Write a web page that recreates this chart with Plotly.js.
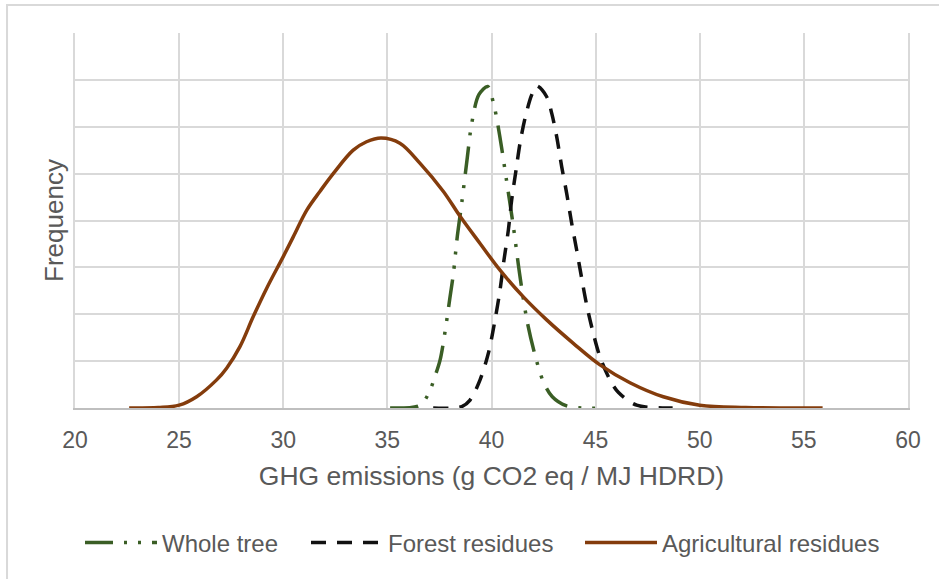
<!DOCTYPE html>
<html>
<head>
<meta charset="utf-8">
<script src="https://cdn.plot.ly/plotly-3.0.1.min.js"></script>
<style>html,body{margin:0;padding:0;background:#fff;}#chart{width:939px;height:579px;}</style>
</head>
<body>
<div id="chart"></div>
<script>
// Whole tree
const wholeTreeX = [35.13, 36.57, 37.0, 37.29, 37.53, 37.77, 38.0, 38.17, 38.36, 38.57, 38.84, 39.05, 39.4, 39.82, 40.09, 40.25, 40.49, 40.73, 41.05, 41.37, 41.72, 42.09, 42.49, 42.92, 43.58, 44.4, 45.45];
const wholeTreeY = [0, 0.06, 0.33, 0.68, 1.02, 1.63, 2.34, 2.87, 3.67, 4.37, 5.35, 6.07, 6.69, 6.86, 6.51, 6.18, 5.54, 4.83, 3.87, 2.8, 1.83, 1.13, 0.56, 0.24, 0.05, 0, 0];
// Forest residues
const forestX = [37.2, 38.57, 38.97, 39.45, 39.85, 40.17, 40.41, 40.6, 40.81, 40.97, 41.18, 41.37, 41.61, 41.93, 42.17, 42.65, 42.89, 43.13, 43.37, 43.61, 43.85, 44.09, 44.33, 44.57, 44.89, 45.21, 45.69, 46.1, 46.97, 48.4, 48.7];
const forestY = [0, 0.03, 0.17, 0.6, 1.17, 1.88, 2.52, 3.16, 3.8, 4.44, 5.08, 5.65, 6.18, 6.68, 6.87, 6.64, 6.29, 5.79, 5.15, 4.58, 3.94, 3.37, 2.77, 2.2, 1.59, 1.09, 0.6, 0.33, 0.06, 0, 0];
// Agricultural residues
const agriX = [22.6, 24, 25, 25.84, 26.8, 27.28, 27.92, 28.56, 29.2, 30.0, 30.48, 31.13, 31.76, 32.4, 33.36, 34.0, 34.7, 35.6, 36.57, 37.69, 38.49, 39.45, 40.41, 41.53, 42.65, 43.93, 45.21, 46.65, 48.25, 50.0, 52.2, 55.9];
const agriY = [0, 0.01, 0.06, 0.24, 0.6, 0.85, 1.31, 1.95, 2.55, 3.23, 3.65, 4.22, 4.62, 5.0, 5.5, 5.68, 5.76, 5.65, 5.22, 4.62, 4.09, 3.51, 2.94, 2.37, 1.88, 1.38, 0.92, 0.54, 0.24, 0.06, 0.01, 0];

const seriesNames = ["Whole tree", "Forest residues", "Agricultural residues"];
const xTicks = [20, 25, 30, 35, 40, 45, 50, 55, 60];

const font = "Liberation Sans, Arial, sans-serif";
const grey = "#595959";

const traces = [
  {x: wholeTreeX, y: wholeTreeY, name: seriesNames[0], mode: "lines", legend: "legend",
   line: {color: "#3a5e25", width: 3.5, shape: "spline", smoothing: 0.9, dash: "28px,11px,3px,11px,3px,11px"}},
  {x: forestX, y: forestY, name: seriesNames[1], mode: "lines", legend: "legend2",
   line: {color: "#111111", width: 3.5, shape: "spline", smoothing: 0.9, dash: "15px,11px"}},
  {x: agriX, y: agriY, name: seriesNames[2], mode: "lines", legend: "legend3",
   line: {color: "#843c0c", width: 3.5, shape: "spline", smoothing: 1}}
];

function leg(px) {
  return {orientation: "h", x: (px - 75) / 833, xanchor: "left", y: -0.36, yanchor: "middle",
          font: {family: font, size: 24, color: grey}, itemwidth: 72, bgcolor: "rgba(0,0,0,0)"};
}

const layout = {
  width: 939, height: 579,
  margin: {l: 75, r: 31, t: 33, b: 171},
  paper_bgcolor: "#ffffff", plot_bgcolor: "#ffffff",
  font: {family: font, color: grey, size: 20},
  showlegend: true,
  legend: leg(80),
  legend2: leg(306),
  legend3: leg(580),
  xaxis: {range: [20, 60], tickvals: xTicks, ticktext: xTicks.map(String),
          showgrid: true, gridcolor: "#d9d9d9", gridwidth: 2,
          showline: true, linecolor: "#bfbfbf", linewidth: 2,
          zeroline: false, ticks: "", ticklabelstandoff: 10,
          tickfont: {family: font, size: 23, color: grey},
          title: {text: "GHG emissions (g CO2 eq / MJ HDRD)", font: {family: font, size: 26.5, color: grey}, standoff: 15}},
  yaxis: {range: [0, 8], dtick: 1, showticklabels: false,
          showgrid: true, gridcolor: "#d9d9d9", gridwidth: 2,
          showline: true, linecolor: "#d9d9d9", linewidth: 2, mirror: true,
          zeroline: false, ticks: "",
          title: {text: "Frequency", font: {family: font, size: 26, color: grey}, standoff: 2}},
  shapes: [
    {type: "rect", xref: "paper", yref: "paper", x0: -0.0816, x1: 1.2, y0: -1.0, y1: 1.0747,
     line: {color: "#d9d9d9", width: 2}, fillcolor: "rgba(0,0,0,0)", layer: "below"}
  ]
};

Plotly.newPlot("chart", traces, layout, {staticPlot: true, displayModeBar: false});
</script>
</body>
</html>
